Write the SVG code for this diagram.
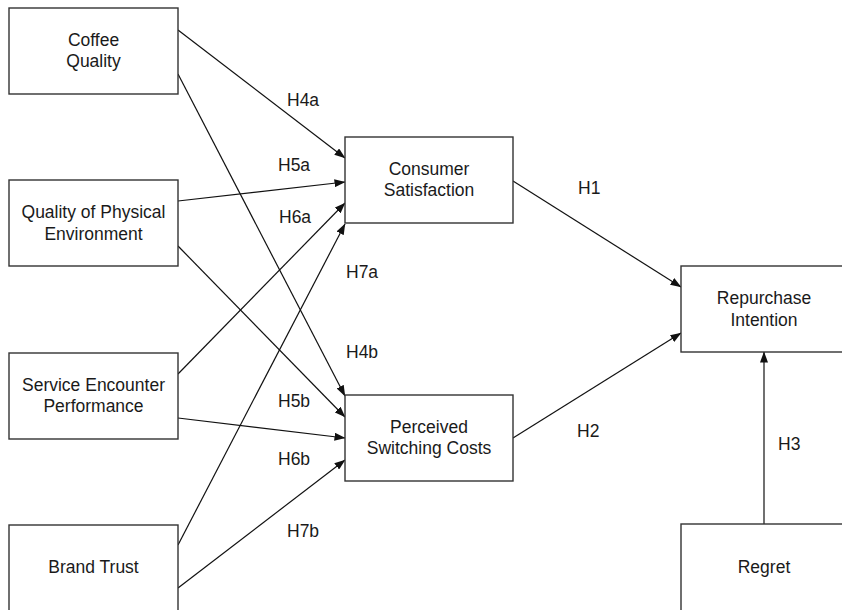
<svg xmlns="http://www.w3.org/2000/svg" width="842" height="610" viewBox="0 0 842 610">
<defs>
<marker id="ah" markerUnits="userSpaceOnUse" markerWidth="11" markerHeight="8" refX="10.5" refY="4" orient="auto">
<path d="M0,0 L11,4 L0,8 z" fill="#111"/>
</marker>
<style>
.box{fill:#fff;stroke:#333;stroke-width:1.4}
.t{font-family:"Liberation Sans",Arial,sans-serif;font-size:17.5px;fill:#1a1a1a;text-anchor:middle}
.l{font-family:"Liberation Sans",Arial,sans-serif;font-size:17.5px;fill:#1a1a1a}
.c{stroke:#111;stroke-width:1.2;fill:none;marker-end:url(#ah)}
</style>
</defs>
<rect width="842" height="610" fill="#fff"/>
<g id="connectors">
<line class="c" x1="178" y1="30" x2="345" y2="158"/>
<line class="c" x1="178" y1="74" x2="345" y2="396"/>
<line class="c" x1="178" y1="201" x2="345" y2="182"/>
<line class="c" x1="178" y1="246" x2="345" y2="417"/>
<line class="c" x1="178" y1="374" x2="345" y2="203"/>
<line class="c" x1="178" y1="418" x2="345" y2="438"/>
<line class="c" x1="178" y1="545" x2="345" y2="224"/>
<line class="c" x1="178" y1="588" x2="345" y2="460"/>
<line class="c" x1="513" y1="181" x2="681" y2="287"/>
<line class="c" x1="513" y1="438" x2="681" y2="333"/>
<line class="c" x1="764" y1="524" x2="764" y2="352"/>
<text class="l" x="287" y="106">H4a</text>
<text class="l" x="278" y="171">H5a</text>
<text class="l" x="279" y="223">H6a</text>
<text class="l" x="346" y="278">H7a</text>
<text class="l" x="346" y="358">H4b</text>
<text class="l" x="278" y="407">H5b</text>
<text class="l" x="278" y="465">H6b</text>
<text class="l" x="287" y="537">H7b</text>
<text class="l" x="578" y="194">H1</text>
<text class="l" x="577" y="437">H2</text>
<text class="l" x="778" y="450">H3</text>
</g>
<g id="coffee-quality">
<rect class="box" x="9" y="8" width="169" height="86"/>
<text class="t" x="93.5" y="46">Coffee</text>
<text class="t" x="93.5" y="67">Quality</text>
</g>
<g id="physical-environment">
<rect class="box" x="9" y="180" width="169" height="86"/>
<text class="t" x="93.5" y="218">Quality of Physical</text>
<text class="t" x="93.5" y="240">Environment</text>
</g>
<g id="service-encounter">
<rect class="box" x="9" y="353" width="169" height="86"/>
<text class="t" x="93.5" y="391">Service Encounter</text>
<text class="t" x="93.5" y="412">Performance</text>
</g>
<g id="brand-trust">
<rect class="box" x="9" y="525" width="169" height="90"/>
<text class="t" x="93.5" y="573">Brand Trust</text>
</g>
<g id="consumer-satisfaction">
<rect class="box" x="345" y="137" width="168" height="86"/>
<text class="t" x="429" y="175">Consumer</text>
<text class="t" x="429" y="196">Satisfaction</text>
</g>
<g id="switching-costs">
<rect class="box" x="345" y="395" width="168" height="86"/>
<text class="t" x="429" y="433">Perceived</text>
<text class="t" x="429" y="454">Switching Costs</text>
</g>
<g id="repurchase-intention">
<rect class="box" x="681" y="266" width="169" height="86"/>
<text class="t" x="764" y="304">Repurchase</text>
<text class="t" x="764" y="326">Intention</text>
</g>
<g id="regret">
<rect class="box" x="681" y="524" width="169" height="92"/>
<text class="t" x="764" y="573">Regret</text>
</g>
</svg>
